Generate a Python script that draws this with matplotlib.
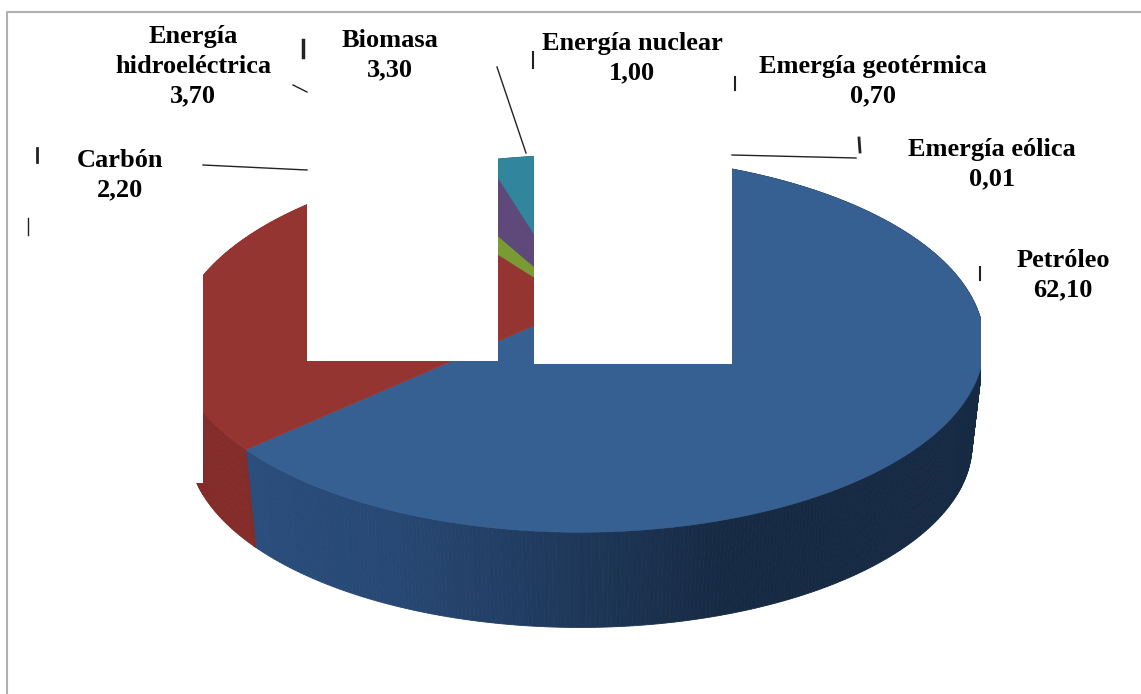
import numpy as np
import matplotlib
matplotlib.use('Agg')
import matplotlib.pyplot as plt
from matplotlib.patches import Polygon, Rectangle

plt.rcParams['font.family'] = ['Liberation Serif', 'DejaVu Serif']

# energy sources, clockwise from the first slice
sources = ['Petróleo', 'Gas natural', 'Carbón', 'Biomasa', 'Energía hidroeléctrica',
           'Energía nuclear', 'Emergía geotérmica', 'Emergía eólica']
shares = [62.10, 27.00, 2.20, 3.30, 3.70, 1.00, 0.70, 0.01]
top_colors = ['#366092', '#953532', '#7a9a34', '#5f497a', '#31859c',
              '#e46c0a', '#4f81bd', '#c0504d']
wall_colors = ['#2a4d7c', '#832c2a', '#5f7a2a', '#4b3a61', '#276a7c',
               '#b5560a', '#3f6797', '#9a403e']

first_angle = 3.2   # degrees clockwise from 12 o'clock

# perspective pie geometry, in pixels
cx, cy = 580, 306
rad_x, rad_y = 396, 181
persp = 0.2
floor_y = 408
floor_scale = 0.97


def rim(deg, scale=1.0, y0=cy):
    t = np.radians(deg)
    u, v = np.sin(t), np.cos(t)
    w = 1 + persp * v
    return cx + scale * rad_x * u / w, y0 - scale * rad_y * v / w


fig = plt.figure(figsize=(11.41, 6.94), dpi=100)
ax = fig.add_axes([0, 0, 1, 1])
ax.set_xlim(0, 1141)
ax.set_ylim(694, 0)
ax.axis('off')

edges = first_angle + np.cumsum([0] + shares) * 360 / sum(shares)


def shade(color, x):
    # the side wall gets darker towards the right
    f = np.interp(x, [250, 400, 580, 720, 1000], [1.0, 0.93, 0.72, 0.55, 0.55])
    return tuple(c * f for c in matplotlib.colors.to_rgb(color))


# side wall as thin strips
for i in range(len(shares)):
    angles = np.arange(edges[i], edges[i + 1] + 0.5, 0.5)
    for a0, a1 in zip(angles[:-1], angles[1:]):
        pts = [rim(a0), rim(a1), rim(a1, floor_scale, floor_y), rim(a0, floor_scale, floor_y)]
        col = shade(wall_colors[i], rim(a0)[0]) if i == 0 else wall_colors[i]
        ax.add_patch(Polygon(pts, closed=True, fc=col, ec=col, lw=0.6))

# top surface
for i in range(len(shares)):
    angles = np.linspace(edges[i], edges[i + 1], max(3, int(shares[i] * 20)))
    pts = [(cx, cy)] + [rim(a) for a in angles]
    ax.add_patch(Polygon(pts, closed=True, fc=top_colors[i], ec=top_colors[i], lw=0.4))

# white boxes laid over the chart
white_boxes = [(307, 20, 191, 341), (534, 20, 198, 344), (30, 120, 173, 363),
               (981, 120, 150, 320), (732, 20, 400, 100)]
for x, y, w, h in white_boxes:
    ax.add_patch(Rectangle((x, y), w, h, fc='white', ec='none', zorder=3))

# leader lines
leaders = [((203, 165), (307, 170)), ((293, 85), (307, 92)),
           ((497, 67), (526, 153)), ((732, 155), (856, 158))]
for p0, p1 in leaders:
    ax.plot([p0[0], p1[0]], [p0[1], p1[1]], color='#222222', lw=1.0, zorder=4)

# cut-off bits of older labels
bits = [((37, 148), (37, 162), 2.0), ((27.5, 218), (27.5, 235), 1.0),
        ((303, 40), (303, 57), 2.5), ((533, 52), (533, 68), 1.5),
        ((735, 77), (735, 90), 1.5), ((859, 138), (860, 152), 2.0),
        ((980, 267), (980, 280), 1.5)]
for p0, p1, lw in bits:
    ax.plot([p0[0], p1[0]], [p0[1], p1[1]], color='#222222', lw=lw, zorder=4)

# data labels
label_pos = {'Petróleo': (1063, 275), 'Carbón': (120, 175), 'Biomasa': (390, 55),
             'Energía hidroeléctrica': (193, 66), 'Energía nuclear': (632, 58),
             'Emergía geotérmica': (873, 81.5), 'Emergía eólica': (992, 164.5)}
for name, value in zip(sources, shares):
    if name not in label_pos:
        continue
    title = 'Energía\nhidroeléctrica' if name == 'Energía hidroeléctrica' else name
    txt = title + '\n' + f'{value:.2f}'.replace('.', ',')
    x, y = label_pos[name]
    ax.text(x, y, txt, ha='center', va='center', fontsize=19, fontweight='bold',
            color='black', linespacing=1.36, zorder=5)

# chart frame, open at the bottom and on the right
ax.plot([7, 7, 1141], [694, 12, 12], color='#b0b0b0', lw=1.5, zorder=6)

fig.savefig('out.png', dpi=100)
